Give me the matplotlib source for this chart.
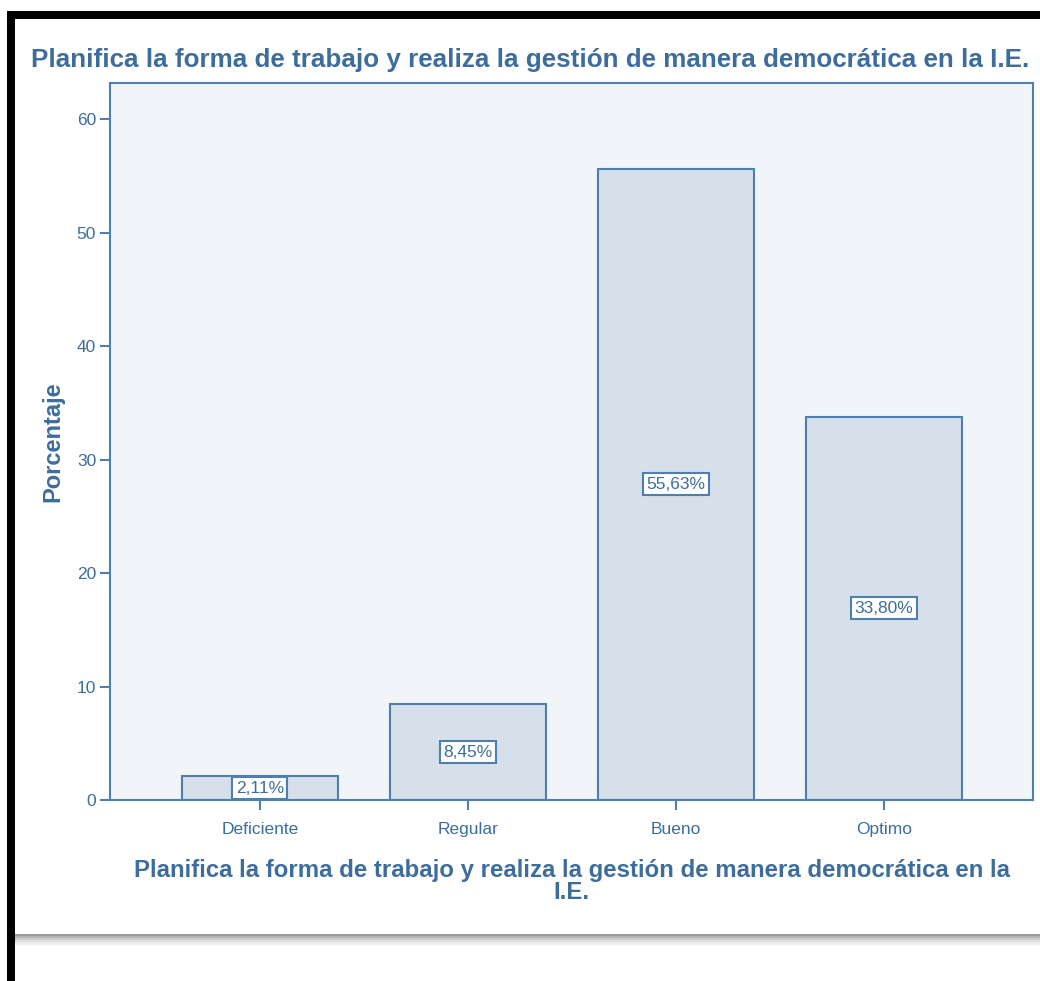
import numpy as np
import matplotlib.pyplot as plt
from matplotlib.patches import Rectangle

categorias = ['Deficiente', 'Regular', 'Bueno', 'Optimo']
porcentajes = [2.11, 8.45, 55.63, 33.80]
etiquetas = ['2,11%', '8,45%', '55,63%', '33,80%']
yticks = [0, 10, 20, 30, 40, 50, 60]

titulo = 'Planifica la forma de trabajo y realiza la gestión de manera democrática en la I.E.'
xlabel = 'Planifica la forma de trabajo y realiza la gestión de manera democrática en la\nI.E.'

AZUL = '#3d6d9c'
BORDE = '#4f7fae'
FONDO = '#f1f5f9'
BARRA = '#d6e0ea'

plt.rcParams['font.family'] = ['Liberation Sans', 'DejaVu Sans']

W, H = 1040, 981
fig = plt.figure(figsize=(W / 100, H / 100), dpi=100)
fig.patch.set_facecolor('white')

# axes in pixels: left 110, right 1033, top 83, bottom 800
ax = fig.add_axes([110 / W, 1 - 800 / H, (1033 - 110) / W, (800 - 83) / H])
ax.set_facecolor(FONDO)

x = np.arange(len(categorias))
ax.bar(x, porcentajes, width=0.75, color=BARRA, edgecolor=BORDE, linewidth=1.5, zorder=2)

for xi, v, t in zip(x, porcentajes, etiquetas):
    ax.text(xi, v / 2, t, ha='center', va='center', fontsize=12.5, color=AZUL, zorder=3,
            bbox=dict(boxstyle='square,pad=0.2', facecolor='white', edgecolor=BORDE, linewidth=1.5))

ax.set_xlim(-0.72, 3.715)
ax.set_ylim(0, 63.2)
ax.set_yticks(yticks)
ax.set_xticks(x)
ax.set_xticklabels(categorias)
ax.tick_params(colors=BORDE, labelcolor=AZUL, labelsize=12.5, length=7, width=1.5,
               direction='out', pad=3)
ax.tick_params(axis='x', pad=9)
for s in ax.spines.values():
    s.set_color(BORDE)
    s.set_linewidth(1.5)

ax.set_ylabel('Porcentaje', fontsize=17, fontweight='bold', color=AZUL, labelpad=9)
ax.set_xlabel(xlabel, fontsize=17.3, fontweight='bold', color=AZUL, labelpad=16, linespacing=0.9)

fig.text(530 / W, 1 - 60 / H, titulo, ha='center', va='center', fontsize=18.7,
         fontweight='bold', color=AZUL)

# black frame (top and left) and shadow line at the bottom
fig.patches.append(Rectangle((7 / W, 1 - 19 / H), (W - 7) / W, 8 / H, transform=fig.transFigure,
                             facecolor='black', edgecolor='none', zorder=5))
fig.patches.append(Rectangle((7 / W, 0), 8 / W, (H - 11) / H, transform=fig.transFigure,
                             facecolor='black', edgecolor='none', zorder=5))
for i, g in enumerate(['#9a9a9a', '#b5b5b5', '#cccccc', '#dddddd', '#ebebeb', '#f5f5f5']):
    fig.patches.append(Rectangle((15 / W, 1 - (934 + 2 * i + 2) / H), (W - 15) / W, 2 / H,
                                 transform=fig.transFigure, facecolor=g, edgecolor='none', zorder=4))

fig.savefig('out.png', dpi=100)
